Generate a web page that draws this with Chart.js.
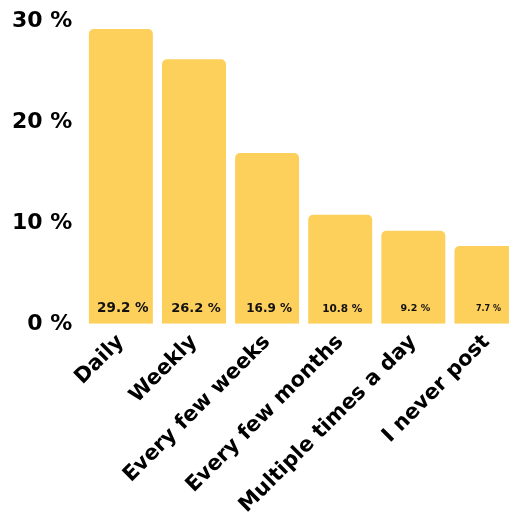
<!DOCTYPE html>
<html>
<head>
<meta charset="utf-8">
<script src="https://cdn.jsdelivr.net/npm/chart.js@4"></script>
<style>
    html, body { margin: 0; padding: 0; background: #fff; overflow: hidden; }
    #wrap { width: 523px; height: 532px; position: relative; }
</style>
</head>
<body>
<div id="wrap"><canvas id="posting-frequency"></canvas></div>
<script>
const categories = ["Daily", "Weekly", "Every few weeks", "Every few months", "Multiple times a day", "I never post"];
const shares = [29.2, 26.2, 16.9, 10.8, 9.2, 7.7];
const yTicks = [0, 10, 20, 30];
// value labels shrink from left to right in the original
const labelFontSizes = [13.5, 13, 12, 10.5, 9.5, 8];

const FONT = "'DejaVu Sans', sans-serif";

// draws "xx.x %" near the bottom of each bar
const barValueLabels = {
    id: "barValueLabels",
    afterDatasetsDraw(chart) {
        const ctx = chart.ctx;
        const meta = chart.getDatasetMeta(0);
        ctx.save();
        ctx.fillStyle = "#111";
        ctx.textAlign = "center";
        ctx.textBaseline = "middle";
        meta.data.forEach((bar, i) => {
            ctx.font = "bold " + labelFontSizes[i] + "px " + FONT;
            ctx.fillText(shares[i].toFixed(1) + " %", bar.x + 2, bar.base - 15);
        });
        ctx.restore();
    },
};

const ctx1 = document.getElementById("posting-frequency").getContext("2d");
const chart = new Chart(ctx1, {
    type: "bar",
    data: {
        labels: categories,
        datasets: [{
            label: "share",
            data: shares,
            backgroundColor: "#FDCF5B",
            borderWidth: 0,
            borderRadius: { topLeft: 5, topRight: 5 },
            borderSkipped: "bottom",
            barPercentage: 0.875,
            categoryPercentage: 1,
        }],
    },
    options: {
        responsive: true,
        maintainAspectRatio: false,
        animation: false,
        layout: {
            padding: { top: 0, left: 0, right: 0, bottom: 8 },
        },
        scales: {
            x: {
                grid: { display: false, drawTicks: false },
                border: { display: false },
                ticks: {
                    color: "#000",
                    font: { family: FONT, weight: "bold", size: 21 },
                    maxRotation: 45,
                    minRotation: 45,
                    padding: 6,
                },
            },
            y: {
                min: 0,
                max: 30,
                afterBuildTicks: (axis) => {
                    axis.ticks = yTicks.map((v) => ({ value: v }));
                },
                grid: { display: false, drawTicks: false },
                border: { display: false },
                ticks: {
                    color: "#000",
                    font: { family: FONT, weight: "bold", size: 22, lineHeight: 0.8 },
                    padding: 12,
                    callback: (v) => v + " %",
                },
            },
        },
        plugins: {
            legend: { display: false },
            tooltip: { enabled: false },
        },
    },
    plugins: [barValueLabels],
});
</script>
</body>
</html>
